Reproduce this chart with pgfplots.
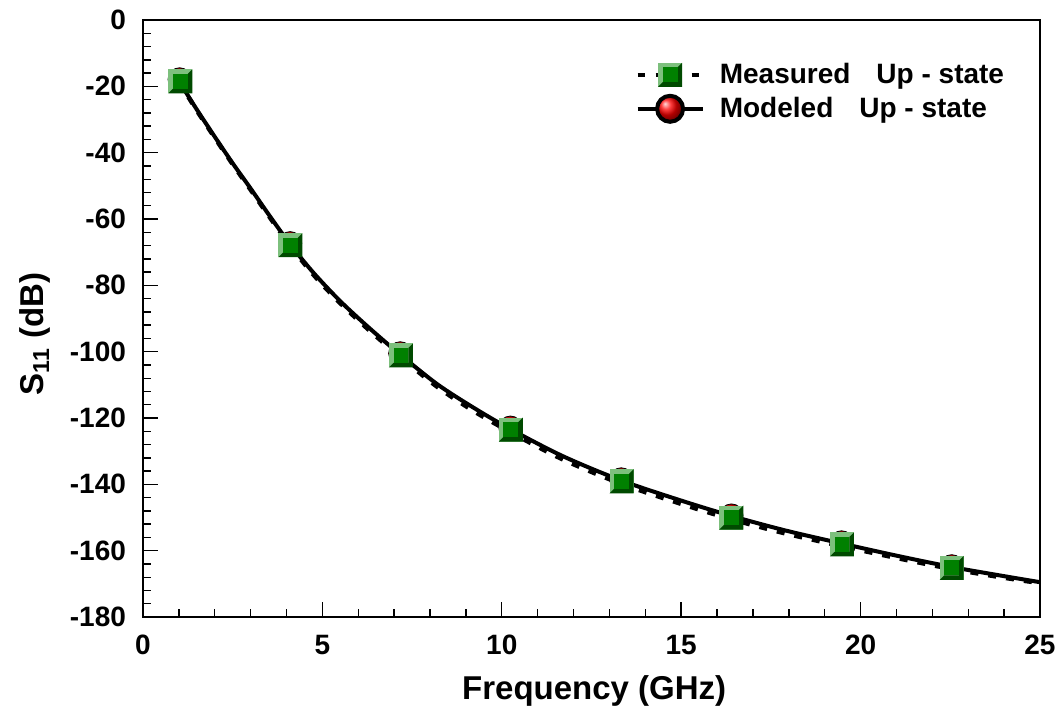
\documentclass[border=0pt]{standalone}
\usepackage{fontspec}
\setmainfont{Liberation Sans}
\usepackage{pgfplots}
\pgfplotsset{compat=1.18}
\definecolor{sqlight}{HTML}{7DC07D}
\definecolor{sqmid}{HTML}{008000}
\definecolor{sqdark}{HTML}{004A00}
\pgfdeclareplotmark{bevsq}{%
  \pgfsetfillcolor{sqlight}%
  \pgfpathrectangle{\pgfqpoint{-\pgfplotmarksize}{-\pgfplotmarksize}}{\pgfqpoint{2\pgfplotmarksize}{2\pgfplotmarksize}}%
  \pgfusepathqfill
  \pgfsetfillcolor{sqdark}%
  \pgfpathmoveto{\pgfqpoint{-\pgfplotmarksize}{-\pgfplotmarksize}}%
  \pgfpathlineto{\pgfqpoint{\pgfplotmarksize}{-\pgfplotmarksize}}%
  \pgfpathlineto{\pgfqpoint{\pgfplotmarksize}{\pgfplotmarksize}}%
  \pgfpathlineto{\pgfqpoint{0.62\pgfplotmarksize}{0.62\pgfplotmarksize}}%
  \pgfpathlineto{\pgfqpoint{0.62\pgfplotmarksize}{-0.62\pgfplotmarksize}}%
  \pgfpathlineto{\pgfqpoint{-0.62\pgfplotmarksize}{-0.62\pgfplotmarksize}}%
  \pgfpathclose
  \pgfusepathqfill
  \pgfsetfillcolor{sqmid}%
  \pgfpathrectangle{\pgfqpoint{-0.62\pgfplotmarksize}{-0.62\pgfplotmarksize}}{\pgfqpoint{1.24\pgfplotmarksize}{1.24\pgfplotmarksize}}%
  \pgfusepathqfill
}
\pgfplotstableread{
x y
1.0 -18.4
1.5 -27.0
2.0 -35.2
2.5 -43.2
3.0 -50.8
3.5 -58.6
4.1 -67.6
4.75 -76.2
5.5 -84.8
6.3 -92.8
7.16 -100.8
8.2 -109.8
9.2 -116.8
10.23 -123.3
11.7 -131.5
13.32 -138.8
15.0 -144.9
16.39 -149.5
17.9 -153.9
19.46 -157.8
21.0 -161.5
22.53 -164.9
23.9 -167.5
25.0 -169.5
}\modeledline
\pgfplotstableread{
x y
1.0 -18.6
1.5 -27.3
2.0 -35.5
2.5 -43.5
3.0 -51.2
3.5 -59.0
4.1 -68.0
4.75 -76.8
5.5 -85.4
6.3 -93.5
7.16 -101.5
8.2 -110.6
9.2 -117.8
10.23 -124.2
11.7 -132.5
13.32 -139.8
15.0 -145.9
16.39 -150.5
17.9 -154.8
19.46 -158.6
21.0 -162.2
22.53 -165.5
23.9 -168.0
25.0 -169.8
}\measuredline
\pgfplotstableread{
x y
1.02 -17.9
4.10 -67.3
7.17 -100.5
10.24 -122.9
13.33 -138.5
16.40 -149.4
19.47 -157.5
22.54 -164.7
}\modeledpts
\pgfplotstableread{
x y
1.04 -18.5
4.11 -67.9
7.19 -101.1
10.25 -123.5
13.34 -139.1
16.40 -150.0
19.48 -158.1
22.54 -165.2
}\measuredpts
\begin{document}
\begin{tikzpicture}
\useasboundingbox (-71.5pt,-46pt) rectangle (459pt,308.5pt);
\begin{axis}[
  at={(0pt,0pt)}, anchor=south west,
  scale only axis, width=448.5pt, height=298.5pt,
  xmin=0, xmax=25, ymin=-180, ymax=0,
  xtick={0,5,...,25}, ytick={-180,-160,...,0},
  minor x tick num=4, minor y tick num=4,
  tick align=inside, xtick pos=bottom, ytick pos=left,
  major tick length=7.5pt, minor tick length=3.8pt,
  axis line style={line width=1.3pt},
  every tick/.style={black, line width=0.7pt},
  /pgf/number format/assume math mode=true,
  ticklabel style={font=\fontsize{14}{16}\selectfont\bfseries},
  yticklabel style={xshift=-5pt},
  xticklabel style={yshift=-5.5pt},
  label style={font=\fontsize{16.5}{20}\selectfont\bfseries},
  xlabel={Frequency (GHz)},
  ylabel={S\textsubscript{11} (dB)},
  xlabel style={at={(axis description cs:0.503,-0.1374)}, anchor=base},
  ylabel style={at={(axis description cs:-0.1104,0.474)}, anchor=base},
  legend style={at={(axis description cs:0.5485,0.929)}, anchor=north west,
    draw=none, fill=none, inner sep=0pt, row sep=3.5pt, column sep=0pt,
    font=\fontsize{14}{16}\selectfont\bfseries,
    nodes={inner sep=0pt, text depth=0.15em}},
  legend cell align=left,
  legend image code/.code={%
    \draw[mark repeat=2,mark phase=2,#1] plot coordinates {(0pt,0pt) (16.25pt,0pt) (32.5pt,0pt)};
    \path (40pt,0pt);},
]
\addplot[black, line width=2pt, smooth, forget plot] table {\modeledline};
\addplot[black, line width=2.2pt, dash pattern=on 4pt off 5pt, smooth, forget plot] table {\measuredline};
\addplot[only marks, mark=ball, mark size=5.8pt, mark options={ball color=red}, forget plot] table {\modeledpts};
\addplot[only marks, mark=bevsq, mark size=6pt, forget plot] table {\measuredpts};
\addlegendimage{black, line width=2.2pt, dash pattern=on 3.5pt off 5.5pt, mark=bevsq, mark size=6pt, mark options={solid}}
\addlegendentry{Measured\hspace{13pt}Up - state}
\addlegendimage{black, line width=2pt, mark=ball, mark size=6.5pt, mark options={ball color=red}}
\addlegendentry{Modeled\hspace{13pt}Up - state}
\end{axis}
\end{tikzpicture}
\end{document}
